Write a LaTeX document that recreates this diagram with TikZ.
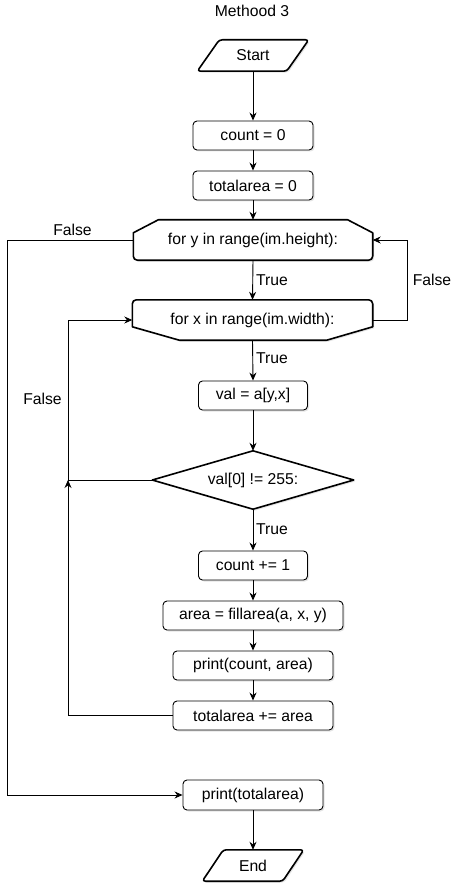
\documentclass[tikz,border=0pt]{standalone}
\usepackage{fontspec}
\setmainfont{Liberation Sans}
\usetikzlibrary{arrows.meta,shadows,calc,backgrounds}
\begin{document}
\begin{tikzpicture}[x=1pt,y=-1pt,
  font=\fontsize{15.7}{18}\selectfont,
  sh/.style={drop shadow={shadow xshift=1.5pt, shadow yshift=-1.5pt, opacity=0.15, fill=black!70}},
  box/.style={draw, rounded corners=4pt, line width=0.9pt, fill=white, inner sep=0pt, sh},
  hold/.style={inner sep=0pt},
  thickshape/.style={draw, line width=1.6pt, line join=round, fill=white, sh},
  arr/.style={-{Stealth[length=8pt,width=7pt]}, line width=0.9pt},
  lbl/.style={inner sep=0pt}]
\useasboundingbox (0,0) rectangle (469,893);

\node[lbl] (title) at (252,11) {Methood 3};

% terminals and loop shapes (text holders)
\node[hold, minimum width=111, minimum height=31] (start) at (253,55.5) {Start};
\node[hold, minimum width=239, minimum height=40] (fy) at (253,240) {for y in range(im.height):};
\node[hold, minimum width=240, minimum height=40] (fx) at (252.5,320) {for x in range(im.width):};
\node[hold, minimum width=201, minimum height=58] (dia) at (253,480) {val[0] != 255:};
\node[hold, minimum width=101, minimum height=31] (end) at (253,865.5) {End};

\begin{pgfonlayer}{background}
\draw[thickshape, rounded corners=3pt] ($(start.north west)+(22,0)$) -- (start.north east) -- ($(start.south east)+(-22,0)$) -- (start.south west) -- cycle;
\draw[thickshape, rounded corners=3pt] ($(end.north west)+(21,0)$) -- (end.north east) -- ($(end.south east)+(-21,0)$) -- (end.south west) -- cycle;
\draw[thickshape] ($(fy.north west)+(25,0)$) -- ($(fy.north east)+(-25,0)$) -- ($(fy.north east)+(0,13)$) [rounded corners=4pt] -- (fy.south east) -- (fy.south west) [sharp corners] -- ($(fy.north west)+(0,13)$) -- cycle;
\draw[thickshape] ($(fx.south west)+(47,0)$) -- ($(fx.north west)+(0,27)$) [rounded corners=4pt] -- (fx.north west) -- (fx.north east) [sharp corners] -- ($(fx.north east)+(0,27)$) -- ($(fx.south east)+(-46,0)$) -- cycle;
\draw[thickshape] (dia.north) -- (dia.east) -- (dia.south) -- (dia.west) -- cycle;
\end{pgfonlayer}

% process boxes
\node[box, minimum width=120, minimum height=29] (c0) at (253,135.5) {count = 0};
\node[box, minimum width=120, minimum height=29] (ta0) at (253,185.5) {totalarea = 0};
\node[box, minimum width=109, minimum height=29] (val) at (253,395.5) {val = a[y,x]};
\node[box, minimum width=109, minimum height=29] (cnt1) at (253,565.5) {count += 1};
\node[box, minimum width=180, minimum height=29] (area) at (253,615.5) {area = fillarea(a, x, y)};
\node[box, minimum width=160, minimum height=29] (pca) at (253,665.5) {print(count, area)};
\node[box, minimum width=160, minimum height=29] (tot) at (253,715.5) {totalarea += area};
\node[box, minimum width=140, minimum height=30] (pt) at (253,795) {print(totalarea)};

\coordinate (j) at (68,480);

% connectors
\draw[arr] (start.south) -- (c0.north);
\draw[arr] (c0.south) -- (ta0.north);
\draw[arr] (ta0.south) -- (fy.north);
\draw[arr] (fy.south) -- (fx.north);
\draw[arr] (fx.south) -- (val.north);
\draw[arr] (val.south) -- (dia.north);
\draw[arr] (dia.south) -- (cnt1.north);
\draw[arr] (cnt1.south) -- (area.north);
\draw[arr] (area.south) -- (pca.north);
\draw[arr] (pca.south) -- (tot.north);
\draw[arr] (pt.south) -- (end.north);
\draw[arr] (fy.west) -- ++(-125.5,0) |- (pt.west);
\draw[arr] (fx.east) -- ++(34.5,0) |- (fy.east);
\draw[arr] (dia.west) -- (j) |- (fx.west);
\draw[arr] (tot.west) -| (j);

% labels
\node[lbl] (lf1) at (72.5,230) {False};
\node[lbl] (lt1) at (272,280) {True};
\node[lbl] (lf2) at (432,280) {False};
\node[lbl] (lt2) at (272,358) {True};
\node[lbl] (lf3) at (42.5,399) {False};
\node[lbl] (lt3) at (272,529) {True};
\end{tikzpicture}
\end{document}
